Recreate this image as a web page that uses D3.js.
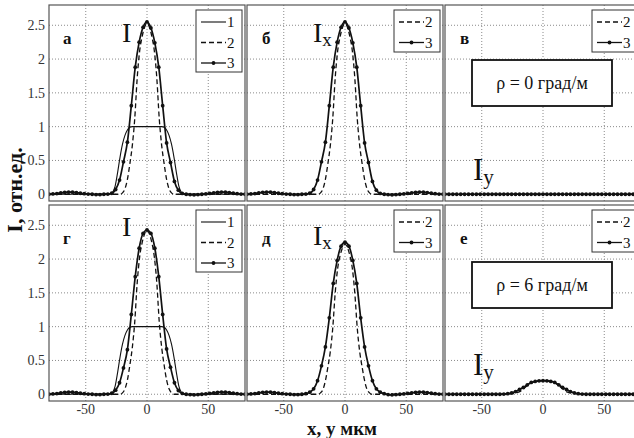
<!DOCTYPE html>
<html><head><meta charset="utf-8">
<script src="https://cdn.jsdelivr.net/npm/d3@7"></script>
<style>html,body{margin:0;padding:0;background:#fff;}svg{display:block;}</style>
</head><body>
<script>
// ---------- DATA ----------
const xTicks = [-50, 0, 50];
const xTickLabels = ["-50", "0", "50"];
const yTicks = [0, 0.5, 1, 1.5, 2, 2.5];
const yTickLabels = ["0", "0.5", "1", "1.5", "2", "2.5"];
const legendLabels = ["1", "2", "3"];
const panelLetters = ["а", "б", "в", "г", "д", "е"];
const panelTitles = [["I", ""], ["I", "x"], ["I", "y"], ["I", ""], ["I", "x"], ["I", "y"]];
const rhoLabels = ["ρ = 0 град/м", "ρ = 6 град/м"];

// curve 1 (flat-top input)
const x1 = [-80,-32,-30,-28,-26,-24,-22,-20,-18,-16,-14,-12,0,12,14,16,18,20,22,24,26,28,30,32,80];
const c1 = [0,0,0.005,0.03,0.12,0.32,0.55,0.74,0.87,0.95,0.99,1,1,1,0.99,0.95,0.87,0.74,0.55,0.32,0.12,0.03,0.005,0,0];

// curve 2 (dashed)
const x2 = [-80,-40,-24,-22,-20,-18,-16,-14,-12,-10,-8,-6,-4,-2,0,2,4,6,8,10,12,14,16,18,20,22,24,40,80];
const a2 = [0,0,0,0,0.02,0.08,0.22,0.45,0.72,1.12,1.72,2.12,2.33,2.47,2.53,2.47,2.33,2.12,1.72,1.12,0.72,0.45,0.22,0.08,0.02,0,0,0,0];
const b2 = [0,0,0,0,0.02,0.08,0.22,0.45,0.72,1.12,1.72,2.12,2.33,2.47,2.53,2.47,2.33,2.12,1.72,1.12,0.72,0.45,0.22,0.08,0.02,0,0,0,0];
const v2 = [0,0,0,0,0,0,0,0,0,0,0,0,0,0,0,0,0,0,0,0,0,0,0,0,0,0,0,0,0];
const g2 = [0,0,0,0,0.02,0.08,0.21,0.43,0.69,1.07,1.65,2.03,2.24,2.37,2.43,2.37,2.24,2.03,1.65,1.07,0.69,0.43,0.21,0.08,0.02,0,0,0,0];
const d2 = [0,0,0,0,0.02,0.07,0.2,0.4,0.63,0.98,1.5,1.86,2.05,2.17,2.22,2.17,2.05,1.86,1.5,0.98,0.63,0.4,0.2,0.07,0.02,0,0,0,0];
const e2 = [0,0,0.01,0.02,0.03,0.05,0.08,0.11,0.14,0.165,0.18,0.19,0.197,0.2,0.2,0.2,0.197,0.19,0.18,0.165,0.14,0.11,0.08,0.05,0.03,0.02,0.01,0,0];

// curve 3 (with markers)
const x3 = [-80,-76.8,-73.6,-70.4,-67.2,-64,-60.8,-57.6,-54.4,-51.2,-48,-44.8,-41.6,-38.4,-35.2,-32,-28.8,-25.6,-22.4,-19.2,-16,-12.8,-9.6,-6.4,-3.2,0,
            3.2,6.4,9.6,12.8,16,19.2,22.4,25.6,28.8,32,35.2,38.4,41.6,44.8,48,51.2,54.4,57.6,60.8,64,67.2,70.4,73.6,76.8,80];
const a3 = [0,0.005,0.01,0.02,0.028,0.032,0.03,0.025,0.015,0.008,0.003,0,-0.005,-0.005,0,0.003,0.015,0.07,0.21,0.48,0.77,1.31,1.88,2.25,2.47,2.55,
            2.46,2.24,1.88,1.31,0.76,0.47,0.19,0.06,0.012,0,-0.005,-0.008,-0.005,0,0.005,0.012,0.02,0.028,0.032,0.03,0.025,0.015,0.008,0.003,0];
const b3 = [0,0.005,0.01,0.02,0.028,0.032,0.03,0.025,0.015,0.008,0.003,0,-0.005,-0.005,0,0.003,0.015,0.07,0.21,0.48,0.77,1.31,1.88,2.25,2.47,2.55,
            2.46,2.24,1.88,1.31,0.76,0.47,0.19,0.06,0.012,0,-0.005,-0.008,-0.005,0,0.005,0.012,0.02,0.028,0.032,0.03,0.025,0.015,0.008,0.003,0];
const v3 = [0,0,0,0,0,0,0,0,0,0,0,0,0,0,0,0,0,0,0,0,0,0,0,0,0,0,
            0,0,0,0,0,0,0,0,0,0,0,0,0,0,0,0,0,0,0,0,0,0,0,0,0];
const g3 = [0,0.005,0.01,0.02,0.028,0.032,0.03,0.025,0.015,0.008,0.003,0,-0.005,-0.005,0,0.003,0.015,0.06,0.17,0.39,0.66,1.18,1.74,2.16,2.38,2.43,
            2.38,2.16,1.74,1.18,0.67,0.40,0.17,0.055,0.012,0,-0.005,-0.008,-0.005,0,0.005,0.012,0.02,0.028,0.032,0.03,0.025,0.015,0.008,0.003,0];
const d3v = [0,0.005,0.01,0.02,0.028,0.032,0.03,0.025,0.015,0.008,0.003,0,-0.005,-0.005,0,0.008,0.03,0.08,0.2,0.42,0.7,1.13,1.64,1.98,2.19,2.25,
            2.19,1.98,1.64,1.13,0.7,0.42,0.2,0.08,0.03,0.008,-0.005,-0.008,-0.005,0,0.005,0.012,0.02,0.028,0.032,0.03,0.025,0.015,0.008,0.003,0];
const e3 = [0,0,0,0,0,0,0,0,0,0,0,0,0,0,0,0.002,0.008,0.02,0.04,0.07,0.1,0.14,0.175,0.19,0.198,0.2,
            0.198,0.19,0.175,0.14,0.1,0.07,0.04,0.02,0.008,0.002,0,0,0,0,0,0,0,0,0,0,0,0,0,0,0];

// ---------- LAYOUT ----------
const W = 634, H = 438;
const panelLefts = [49, 247, 445];
const panelTops = [5, 205];
const pw = 196, ph = 196;

const panels = [
  {c1: true,  y2: a2, y3: a3, leg: 3},
  {c1: false, y2: b2, y3: b3, leg: 2},
  {c1: false, y2: v2, y3: v3, leg: 2, rho: 0},
  {c1: true,  y2: g2, y3: g3, leg: 3},
  {c1: false, y2: d2, y3: d3v, leg: 2},
  {c1: false, y2: e2, y3: e3, leg: 2, rho: 1}
];

const svg = d3.select("body").append("svg").attr("width", W).attr("height", H);
const FONT = "'Liberation Serif','Times New Roman',serif";

const x = d3.scaleLinear().domain([-80, 80]).range([0, pw]);
const y = d3.scaleLinear().domain([-0.1, 2.8]).range([ph, 0]);

panels.forEach((p, i) => {
  const col = i % 3, row = Math.floor(i / 3);
  const g = svg.append("g").attr("transform", `translate(${panelLefts[col]},${panelTops[row]})`);
  const cid = "clip" + i;
  g.append("clipPath").attr("id", cid).append("rect").attr("width", pw).attr("height", ph);

  // grid
  g.append("g").selectAll("line").data(xTicks).join("line")
    .attr("x1", d => x(d)).attr("x2", d => x(d)).attr("y1", 0).attr("y2", ph)
    .attr("stroke", "#8a8a8a").attr("stroke-width", 1).attr("stroke-dasharray", "1,2");
  g.append("g").selectAll("line").data(yTicks).join("line")
    .attr("x1", 0).attr("x2", pw).attr("y1", d => y(d)).attr("y2", d => y(d))
    .attr("stroke", "#8a8a8a").attr("stroke-width", 1).attr("stroke-dasharray", "1,2");

  const cg = g.append("g").attr("clip-path", `url(#${cid})`);
  const line = d3.line().x(d => x(d[0])).y(d => y(d[1])).curve(d3.curveMonotoneX);

  if (p.c1) {
    cg.append("path").datum(x1.map((v, k) => [v, c1[k]])).attr("d", line)
      .attr("fill", "none").attr("stroke", "#111").attr("stroke-width", 1.1);
  }
  cg.append("path").datum(x2.map((v, k) => [v, p.y2[k]])).attr("d", line)
    .attr("fill", "none").attr("stroke", "#111").attr("stroke-width", 1.3).attr("stroke-dasharray", "5,3");
  const d3pts = x3.map((v, k) => [v, p.y3[k]]);
  cg.append("path").datum(d3pts).attr("d", line)
    .attr("fill", "none").attr("stroke", "#111").attr("stroke-width", 1.7);
  cg.append("g").selectAll("circle").data(d3pts).join("circle")
    .attr("cx", d => x(d[0])).attr("cy", d => y(d[1])).attr("r", 1.9).attr("fill", "#111");

  // frame
  g.append("rect").attr("x", 0).attr("y", 0).attr("width", pw).attr("height", ph)
    .attr("fill", "none").attr("stroke", "#555").attr("stroke-width", 1.2);

  // y tick labels
  if (col === 0) {
    g.append("g").selectAll("text").data(yTicks).join("text")
      .attr("x", -4).attr("y", d => y(d) + 5).attr("text-anchor", "end")
      .attr("font-family", FONT).attr("font-size", 14).attr("fill", "#333")
      .text((d, k) => yTickLabels[k]);
  }
  // x tick labels
  if (row === 1) {
    g.append("g").selectAll("text").data(xTicks).join("text")
      .attr("x", d => x(d)).attr("y", ph + 13).attr("text-anchor", "middle")
      .attr("font-family", FONT).attr("font-size", 14).attr("fill", "#333")
      .text((d, k) => xTickLabels[k]);
  }

  // panel letter
  g.append("text").attr("x", col === 0 ? 14 : 15).attr("y", 39)
    .attr("font-family", FONT).attr("font-weight", "bold").attr("font-size", 17).attr("fill", "#111")
    .text(panelLetters[i]);

  // I label
  const t = panelTitles[i];
  let tx, ty, fs;
  if (col === 2) { tx = 28; ty = row === 0 ? 175 : 170; fs = 31; }
  else { tx = col === 0 ? 73 : 66; ty = row === 0 ? 37 : 31; fs = 28; }
  if (col === 1 && row === 1) ty = 40;
  const tt = g.append("text").attr("x", tx).attr("y", ty)
    .attr("font-family", FONT).attr("font-size", fs).attr("fill", "#111");
  tt.append("tspan").text(t[0]);
  if (t[1]) tt.append("tspan").attr("dy", 4).attr("font-size", fs * 0.68).text(t[1]);

  // legend
  const lw = 46, lh = p.leg === 3 ? 62 : 42;
  const lg = g.append("g").attr("transform", `translate(${pw - lw - 3},5)`);
  lg.append("rect").attr("width", lw).attr("height", lh).attr("fill", "#fff")
    .attr("stroke", "#333").attr("stroke-width", 1);
  const items = p.leg === 3 ? [0, 1, 2] : [1, 2];
  items.forEach((it, k) => {
    const yy = 12 + k * 20.5;
    const ln = lg.append("line").attr("x1", 5).attr("x2", 30).attr("y1", yy).attr("y2", yy)
      .attr("stroke", "#111").attr("stroke-width", it === 0 ? 1.1 : 1.3);
    if (it === 1) ln.attr("stroke-dasharray", "5,3");
    if (it === 2) lg.append("circle").attr("cx", 17.5).attr("cy", yy).attr("r", 1.9).attr("fill", "#111");
    lg.append("text").attr("x", 31).attr("y", yy + 5).attr("font-family", FONT)
      .attr("font-size", 15).attr("fill", "#111").text(legendLabels[it]);
  });

  // rho box
  if (p.rho !== undefined) {
    const by = row === 0 ? 55 : 57;
    g.append("rect").attr("x", 27).attr("y", by).attr("width", 140).attr("height", 46)
      .attr("fill", "#fff").attr("stroke", "#111").attr("stroke-width", 1.8);
    g.append("text").attr("x", 97).attr("y", by + 29).attr("text-anchor", "middle")
      .attr("font-family", FONT).attr("font-size", 18).attr("fill", "#111")
      .text(rhoLabels[p.rho]);
  }
});

// axis titles
svg.append("text").attr("transform", "translate(22,190) rotate(-90)").attr("text-anchor", "middle")
  .attr("font-family", FONT).attr("font-weight", "bold").attr("font-size", 22).attr("fill", "#111")
  .text("I, отн.ед.");
svg.append("text").attr("x", 342).attr("y", 435).attr("text-anchor", "middle")
  .attr("font-family", FONT).attr("font-weight", "bold").attr("font-size", 19).attr("fill", "#111")
  .text("x, y мкм");
</script>
</body></html>
